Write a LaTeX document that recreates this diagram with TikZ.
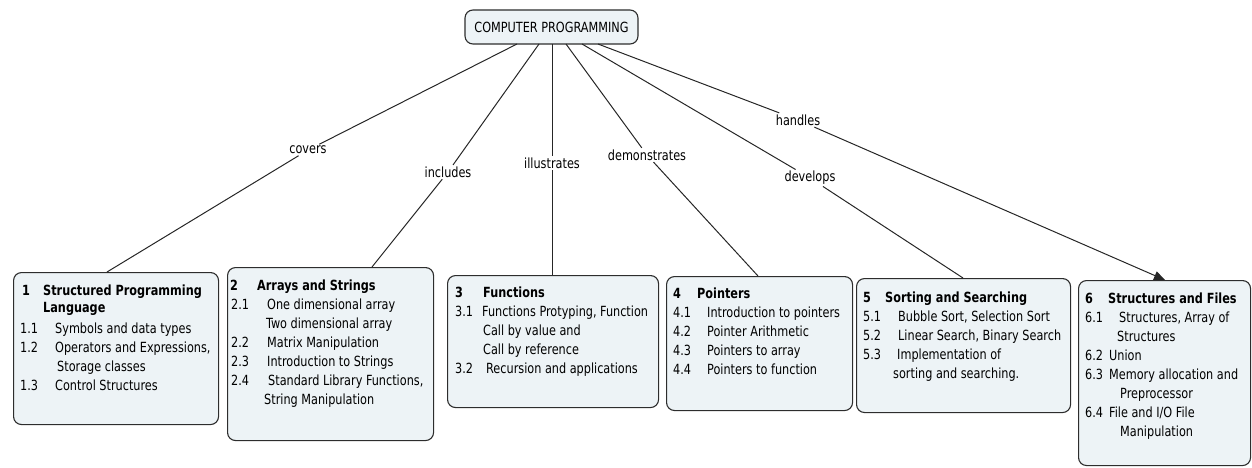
\documentclass[tikz,border=0pt]{standalone}
\usepackage{fontspec}
\setmainfont{DejaVu Sans Condensed}[FakeStretch=0.895]
\usetikzlibrary{arrows.meta}
\definecolor{boxfill}{RGB}{237,243,246}
\definecolor{boxline}{RGB}{45,45,45}
\begin{document}
\begin{tikzpicture}[x=1pt,y=-1pt,
  box/.style={draw=boxline, line width=1.1pt, fill=boxfill, rounded corners=8pt, anchor=north west, inner sep=0pt},
  topbox/.style={draw=boxline, line width=1.1pt, fill=boxfill, rounded corners=8pt, inner sep=0pt, minimum width=173pt, minimum height=34pt, font=\fontsize{14}{16}\selectfont},
  lbl/.style={font=\fontsize{14}{16}\selectfont, inner sep=1.5pt},
  conn/.style={draw=black!85, line width=1pt},
  body/.style={anchor=base west, inner sep=0pt, font=\fontsize{14}{19}\selectfont, text=black}]
\useasboundingbox (0,0) rectangle (1252,468);

% top node
\node[topbox] (top) at (551.5,27) {COMPUTER PROGRAMMING};

% boxes
\node[box, minimum width=205pt, minimum height=152pt] (b1) at (13,272) {};
\node[box, minimum width=206pt, minimum height=173pt] (b2) at (227,267) {};
\node[box, minimum width=211pt, minimum height=132pt] (b3) at (447,275) {};
\node[box, minimum width=186pt, minimum height=134pt] (b4) at (666,276) {};
\node[box, minimum width=214pt, minimum height=134pt] (b5) at (856,278) {};
\node[box, minimum width=172pt, minimum height=185pt] (b6) at (1078,280) {};

% box texts
\node[body] (t1) at (20,295) {\begin{tabular}[t]{@{}l@{}}
\hspace*{2pt}\makebox[21pt][l]{\textbf{1}}\textbf{Structured Programming}\\[-2pt]
\hspace*{23pt}\textbf{Language}\\[2pt]
\makebox[35pt][l]{1.1}Symbols and data types\\
\makebox[35pt][l]{1.2}Operators and Expressions,\\
\hspace*{37pt}Storage classes\\
\makebox[35pt][l]{1.3}Control Structures
\end{tabular}};

\node[body] (t2) at (230,290) {\begin{tabular}[t]{@{}l@{}}
\makebox[27pt][l]{\textbf{2}}\textbf{Arrays and Strings}\\
\hspace*{1pt}\makebox[36pt][l]{2.1}One dimensional array\\
\hspace*{36pt}Two dimensional array\\
\hspace*{1pt}\makebox[36pt][l]{2.2}Matrix Manipulation\\
\hspace*{1pt}\makebox[36pt][l]{2.3}Introduction to Strings\\
\hspace*{1pt}\makebox[37pt][l]{2.4}Standard Library Functions,\\
\hspace*{34pt}String Manipulation
\end{tabular}};

\node[body] (t3) at (455,297) {\begin{tabular}[t]{@{}l@{}}
\makebox[28pt][l]{\textbf{3}}\textbf{Functions}\\
\makebox[27pt][l]{3.1}Functions Protyping, Function\\
\hspace*{28pt}Call by value and\\
\hspace*{28pt}Call by reference\\
\makebox[31pt][l]{3.2}Recursion and applications
\end{tabular}};

\node[body] (t4) at (673,298) {\begin{tabular}[t]{@{}l@{}}
\makebox[24pt][l]{\textbf{4}}\textbf{Pointers}\\
\makebox[34pt][l]{4.1}Introduction to pointers\\
\makebox[34pt][l]{4.2}Pointer Arithmetic\\
\makebox[34pt][l]{4.3}Pointers to array\\
\makebox[34pt][l]{4.4}Pointers to function
\end{tabular}};

\node[body] (t5) at (863,302) {\begin{tabular}[t]{@{}l@{}}
\makebox[22pt][l]{\textbf{5}}\textbf{Sorting and Searching}\\
\makebox[35pt][l]{5.1}Bubble Sort, Selection Sort\\
\makebox[35pt][l]{5.2}Linear Search, Binary Search\\
\makebox[34pt][l]{5.3}Implementation of\\
\hspace*{30pt}sorting and searching.
\end{tabular}};

\node[body] (t6) at (1085,303) {\begin{tabular}[t]{@{}l@{}}
\makebox[23pt][l]{\textbf{6}}\textbf{Structures and Files}\\
\makebox[34pt][l]{6.1}Structures, Array of\\
\hspace*{32pt}Structures\\
\makebox[24pt][l]{6.2}Union\\
\makebox[24pt][l]{6.3}Memory allocation and\\
\hspace*{35pt}Preprocessor\\
\makebox[24pt][l]{6.4}File and I/O File\\
\hspace*{35pt}Manipulation
\end{tabular}};

% connector labels
\node[lbl] (covers) at (308,150) {covers};
\node[lbl] (includes) at (448,172) {includes};
\node[lbl] (illustrates) at (552,163) {illustrates};
\node[lbl] (demonstrates) at (647,155) {demonstrates};
\node[lbl] (develops) at (810,178) {develops};
\node[lbl] (handles) at (798,120) {handles};

% connector end points on node borders
\coordinate (s1) at (517,44);
\coordinate (s2) at (539,44);
\coordinate (s3) at (552,44);
\coordinate (s4) at (566,44);
\coordinate (s5) at (582,44);
\coordinate (s6) at (598,44);
\coordinate (e1) at (107,272);
\coordinate (e2) at (372,267);
\coordinate (e3) at (552,275);
\coordinate (e4) at (758,276);
\coordinate (e5) at (963,278);
\coordinate (e6) at (1165,280);

\draw[conn] (s1) -- (covers) -- (e1);
\draw[conn] (s2) -- (includes) -- (e2);
\draw[conn] (s3) -- (illustrates) -- (e3);
\draw[conn] (s4) -- (demonstrates) -- (e4);
\draw[conn] (s5) -- (develops) -- (e5);
\draw[conn] (s6) -- (handles);
\draw[conn, -{Triangle[length=11pt,width=9pt]}] (handles) -- (e6);
\end{tikzpicture}
\end{document}
